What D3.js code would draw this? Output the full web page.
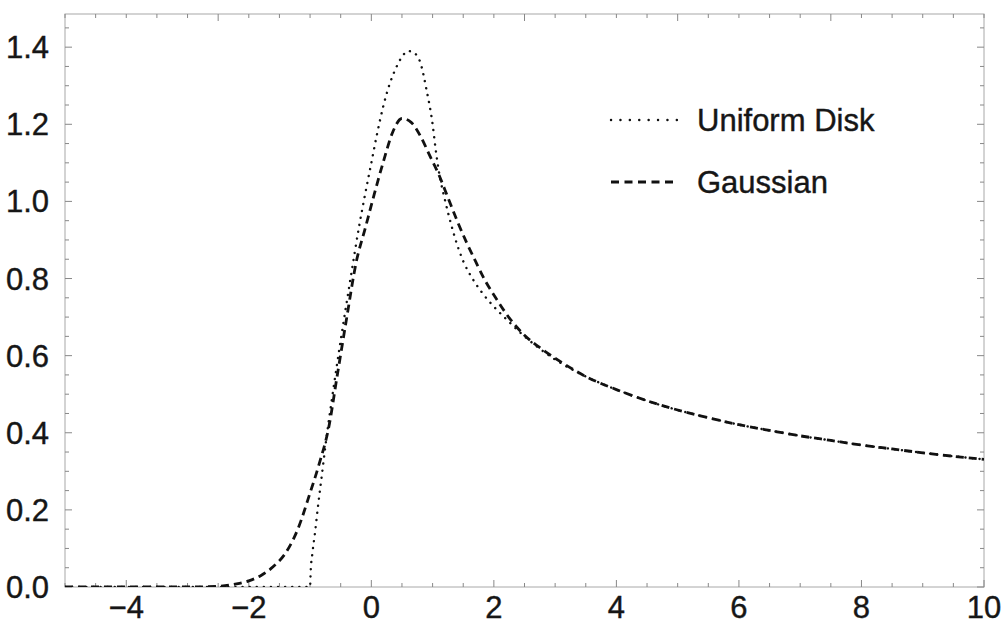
<!DOCTYPE html>
<html lang="en">
<head>
    <meta charset="UTF-8">
    <title>Uniform Disk vs Gaussian</title>
    <style>
        body {
            margin: 0;
            padding: 0;
            background: #fff;
            font-family: "Liberation Sans", Arial, sans-serif;
        }
        #chart text {
            fill: #161616;
            stroke: #161616;
            stroke-width: 0.4px;
        }
    </style>
    <script src="https://d3js.org/d3.v7.min.js"></script>
</head>
<body>
<svg id="chart" width="1006" height="622"></svg>
<script>
    // series
    const uniformX = [-5, -1.0, -0.99, -0.96, -0.92, -0.87, -0.8, -0.73, -0.65, -0.5, -0.35, -0.2, -0.1, 0.0, 0.1, 0.2, 0.3, 0.4, 0.5, 0.6, 0.7, 0.8, 0.9, 1.0, 1.05, 1.1, 1.2, 1.3, 1.4, 1.5, 1.65, 1.8, 2.0, 2.2, 2.45, 2.7, 3.0, 3.5, 4.0, 4.5, 5.0, 5.5, 6.0, 6.5, 7.0, 7.5, 8.0, 8.5, 9.0, 9.5, 10];
    const uniformY = [0, 0, 0.04, 0.09, 0.14, 0.21, 0.30, 0.39, 0.48, 0.64, 0.79, 0.935, 1.02, 1.10, 1.18, 1.25, 1.305, 1.345, 1.375, 1.39, 1.385, 1.36, 1.29, 1.20, 1.135, 1.08, 1.005, 0.942, 0.888, 0.845, 0.80, 0.765, 0.727, 0.695, 0.657, 0.624, 0.59, 0.546, 0.512, 0.483, 0.459, 0.439, 0.421, 0.406, 0.392, 0.38, 0.368, 0.358, 0.348, 0.339, 0.331];

    const gaussX = [-5, -3, -2.5, -2.2, -2.0, -1.8, -1.6, -1.4, -1.2, -1.0, -0.85, -0.7, -0.55, -0.4, -0.25, -0.1, 0.05, 0.2, 0.35, 0.5, 0.65, 0.8, 0.95, 1.1, 1.25, 1.4, 1.55, 1.7, 1.85, 2.05, 2.25, 2.5, 2.8, 3.1, 3.5, 4.0, 4.5, 5.0, 5.5, 6.0, 6.5, 7.0, 7.5, 8.0, 8.5, 9.0, 9.5, 10];
    const gaussY = [0, 0, 0.002, 0.008, 0.016, 0.03, 0.053, 0.088, 0.15, 0.244, 0.32, 0.41, 0.555, 0.70, 0.84, 0.93, 1.02, 1.105, 1.18, 1.215, 1.205, 1.17, 1.12, 1.07, 1.01, 0.95, 0.895, 0.845, 0.797, 0.745, 0.698, 0.653, 0.615, 0.583, 0.546, 0.512, 0.483, 0.459, 0.439, 0.421, 0.406, 0.392, 0.38, 0.368, 0.358, 0.348, 0.339, 0.331];

    const xTicks = [-4, -2, 0, 2, 4, 6, 8, 10];
    const yTicks = [0, 0.2, 0.4, 0.6, 0.8, 1.0, 1.2, 1.4];
    const legendLabels = ['Uniform Disk', 'Gaussian'];

    const svg = d3.select('#chart');
    const plotLeft = 65, plotRight = 984, plotTop = 14, plotBottom = 587;

    const x = d3.scaleLinear().domain([-5, 10]).range([plotLeft, plotRight]);
    const y = d3.scaleLinear().domain([0, 1.486]).range([plotBottom, plotTop]);

    const frameColor = '#a8a8a8';

    // frame
    svg.append('rect')
        .attr('x', plotLeft).attr('y', plotTop)
        .attr('width', plotRight - plotLeft).attr('height', plotBottom - plotTop)
        .attr('fill', 'none')
        .attr('stroke', frameColor)
        .attr('stroke-width', 1);

    // ticks on all four sides, pointing inward
    const xMinor = d3.range(-5, 10.001, 0.5);
    const yMinor = d3.range(0, 1.486, 0.05);
    const topMajor = [-2.5, 0, 2.5, 5, 7.5];
    const isMajor = (v, list) => list.some(t => Math.abs(t - v) < 1e-6);

    const ticks = svg.append('g').attr('stroke', '#888').attr('stroke-width', 1);
    xMinor.forEach(v => {
        const lenB = isMajor(v, xTicks) ? 7 : 4;
        const lenT = isMajor(v, topMajor) ? 7 : 4;
        ticks.append('line').attr('x1', x(v)).attr('x2', x(v)).attr('y1', plotBottom).attr('y2', plotBottom - lenB);
        ticks.append('line').attr('x1', x(v)).attr('x2', x(v)).attr('y1', plotTop).attr('y2', plotTop + lenT);
    });
    yMinor.forEach(v => {
        const len = isMajor(v, yTicks) ? 7 : 4;
        ticks.append('line').attr('x1', plotLeft).attr('x2', plotLeft + len).attr('y1', y(v)).attr('y2', y(v));
        ticks.append('line').attr('x1', plotRight).attr('x2', plotRight - len).attr('y1', y(v)).attr('y2', y(v));
    });

    // tick labels
    const fmtX = d3.format('d');
    const fmtY = d3.format('.1f');
    svg.append('g').selectAll('text')
        .data(xTicks)
        .join('text')
        .attr('x', d => x(d))
        .attr('y', 618)
        .attr('text-anchor', 'middle')
        .attr('font-size', 31)
        .text(d => fmtX(d));

    svg.append('g').selectAll('text')
        .data(yTicks)
        .join('text')
        .attr('x', 49)
        .attr('y', d => y(d) + 11)
        .attr('text-anchor', 'end')
        .attr('font-size', 31)
        .text(d => fmtY(d));

    // curves
    svg.append('clipPath').attr('id', 'plot-clip')
        .append('rect')
        .attr('x', plotLeft).attr('y', plotTop)
        .attr('width', plotRight - plotLeft).attr('height', plotBottom - plotTop);

    const line = d3.line()
        .x(d => x(d[0]))
        .y(d => y(d[1]))
        .curve(d3.curveMonotoneX);

    const uniformPts = uniformX.map((v, i) => [v, uniformY[i]]);
    const gaussPts = gaussX.map((v, i) => [v, gaussY[i]]);

    const dotted = { dash: '0.1,7', width: 2.4 };
    const dashed = { dash: '8,5', width: 2.8 };

    const curves = svg.append('g').attr('clip-path', 'url(#plot-clip)');
    curves.append('path')
        .datum(gaussPts)
        .attr('d', line)
        .attr('fill', 'none')
        .attr('stroke', '#111')
        .attr('stroke-width', dashed.width)
        .attr('stroke-dasharray', dashed.dash);
    curves.append('path')
        .datum(uniformPts)
        .attr('d', line)
        .attr('fill', 'none')
        .attr('stroke', '#111')
        .attr('stroke-width', dotted.width)
        .attr('stroke-linecap', 'round')
        .attr('stroke-dasharray', dotted.dash);

    // legend
    const legend = svg.append('g');
    const styles = [dotted, dashed];
    legendLabels.forEach((label, i) => {
        const ly = 120 + i * 62;
        legend.append('line')
            .attr('x1', 611).attr('x2', 677)
            .attr('y1', ly).attr('y2', ly)
            .attr('stroke', '#111')
            .attr('stroke-width', styles[i].width)
            .attr('stroke-linecap', i === 0 ? 'round' : 'butt')
            .attr('stroke-dasharray', i === 0 ? '0.1,9.3' : '8,5.5');
        legend.append('text')
            .attr('x', 697)
            .attr('y', ly + 11)
            .attr('font-size', 31)
            .text(label);
    });
</script>
</body>
</html>
